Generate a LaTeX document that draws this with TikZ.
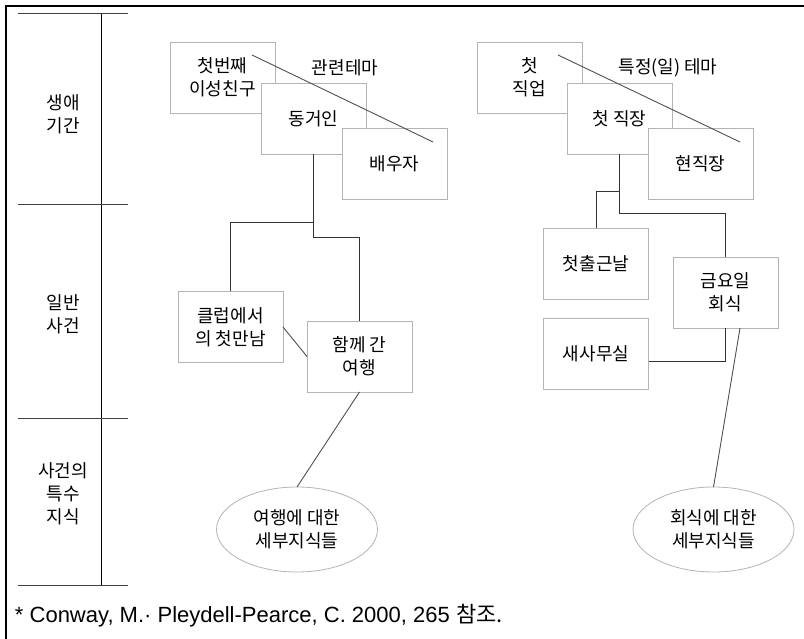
\documentclass[tikz,border=0pt]{standalone}
\usepackage{fontspec}
\setmainfont{Liberation Sans}
\newfontfamily\kr{Noto Sans CJK KR}
\usetikzlibrary{shapes.geometric}
\definecolor{boxgray}{HTML}{B4B4B4}
\definecolor{linegray}{HTML}{505050}
\tikzset{
  every node/.style={inner sep=0pt, outer sep=0pt},
  kbox/.style={draw=boxgray, line width=0.9pt, fill=white, minimum width=105pt, minimum height=71pt,
    align=center, font=\kr\fontsize{18}{23}\selectfont},
  kell/.style={ellipse, draw=boxgray, line width=0.8pt, fill=white, minimum width=161pt, minimum height=85pt,
    align=center, font=\kr\fontsize{18}{23}\selectfont},
  klabel/.style={align=center, font=\kr\fontsize{18}{23}\selectfont},
  conn/.style={draw=black!80, line width=1pt},
  thin/.style={draw=linegray, line width=0.9pt},
  axisline/.style={draw=black!75, line width=1pt},
}
\begin{document}
\begin{tikzpicture}[x=1pt, y=-1pt]
\useasboundingbox (0,0) rectangle (804,639);
% frame
\draw[line width=1.5pt] (6,639) -- (6,6) -- (804,6);
% left axis
\draw[black, line width=0.9pt] (101,14) -- (101,585);
\foreach \yy in {14,205,418,585} { \draw[axisline] (18,\yy) -- (128,\yy); }
\node[klabel] (l1) at (63,114) {생애\\기간};
\node[klabel] (l2) at (63,314) {일반\\사건};
\node[klabel] (l3) at (63,494) {사건의\\특수\\지식};

% left tree
\node[kbox] (b1) at (222.5,77.5) {첫번째\\이성친구};
\node[kbox] (b2) at (313.5,119) {동거인};
\node[kbox] (b3) at (394.5,164) {배우자};
\node[klabel] (t1) at (345,68) {관련테마};
\draw[thin] ([shift={(29.5,-22.5)}]b1.center) -- ([shift={(38.5,-22)}]b3.center);

\node[kbox] (c1) at (230.5,327) {클럽에서\\의 첫만남};
\node[kbox] (c2) at (359.5,356.5) {함께 간\\여행};
\node[kell] (e1) at (297,529.5) {여행에 대한\\세부지식들};

\draw[conn] (b2.south) -- (b2.south |- 0,223) -| (c1.north);
\draw[conn] (b2.south) -- (b2.south |- 0,238) -| (c2.north);
\draw[thin] (c1.east) -- (c2.west);
\draw[thin] (c2.south) -- (e1.north);

% right tree
\node[kbox] (r1) at (529.5,77.5) {첫\\직업};
\node[kbox] (r2) at (619.5,119) {첫 직장};
\node[kbox] (r3) at (700.5,164) {현직장};
\node[klabel] (t2) at (668,68) {특정(일) 테마};
\draw[thin] ([shift={(28.5,-22.5)}]r1.center) -- ([shift={(39.5,-22)}]r3.center);

\node[kbox] (d1) at (596,263.5) {첫출근날};
\node[kbox] (d2) at (725.5,292.5) {금요일\\회식};
\node[kbox] (d3) at (596,354) {새사무실};
\node[kell] (e2) at (713.5,529.5) {회식에 대한\\세부지식들};

\draw[conn] (r2.south) -- (r2.south |- 0,192) -| (d1.north);
\draw[conn] (r2.south) -- (r2.south |- 0,214) -| (d2.north);
\draw[conn] ([yshift=-8]d3.east) -| (d2.south);
\draw[thin] ([xshift=14.5]d2.south) -- (e2.north);

% footnote
\node[anchor=base west, font=\fontsize{22}{24}\selectfont] (fn) at (15,622) {* Conway, M.· Pleydell-Pearce, C. 2000, 265 {\kr 참조.}};
\end{tikzpicture}
\end{document}
